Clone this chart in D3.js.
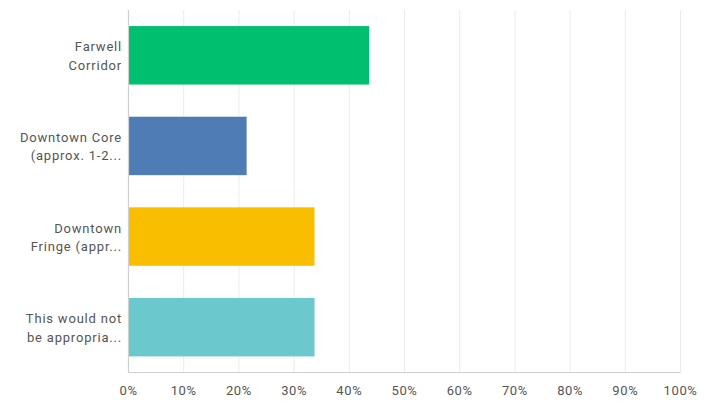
<!DOCTYPE html>
<html><head><meta charset="utf-8">
<script src="https://cdn.jsdelivr.net/npm/d3@7"></script>
<style>body{margin:0;background:#fff}svg{display:block}</style>
</head><body>
<svg id="chart" width="708" height="413"></svg>
<script>
const categories = [
  ["Farwell", "Corridor"],
  ["Downtown Core", "(approx. 1-2..."],
  ["Downtown", "Fringe (appr..."],
  ["This would not", "be appropria..."]
];
const values = [43.6, 21.4, 33.7, 33.7];
const colors = ["#00bf6f", "#507cb6", "#f9be00", "#6bc8cd"];
const tickValues = [0,10,20,30,40,50,60,70,80,90,100];

(function(){
const svg = d3.select("#chart");
const pL = 128.5, pR = 680.5, pT = 10, pB = 372.5;
const x = d3.scaleLinear().domain([0,100]).range([pL, pR]);
const y = d3.scaleBand().domain(d3.range(categories.length)).range([pT, pB]).paddingInner(0.355).paddingOuter(0.1775);

svg.append("g").selectAll("line").data(tickValues.slice(1)).join("line")
  .attr("x1", d => x(d)).attr("x2", d => x(d))
  .attr("y1", pT).attr("y2", pB)
  .attr("stroke", "#ebebeb").attr("stroke-width", 1);

svg.append("g").selectAll("rect").data(values).join("rect")
  .attr("x", x(0)).attr("y", (d,i) => y(i))
  .attr("width", d => x(d) - x(0)).attr("height", y.bandwidth())
  .attr("fill", (d,i) => colors[i]);

svg.append("line").attr("x1", pL).attr("x2", pL).attr("y1", pT).attr("y2", pB)
  .attr("stroke", "#cfcfcf").attr("stroke-width", 1.2);
svg.append("line").attr("x1", pL).attr("x2", pR).attr("y1", pB).attr("y2", pB)
  .attr("stroke", "#cfcfcf").attr("stroke-width", 1.2);

svg.append("g").selectAll("text").data(tickValues).join("text")
  .attr("x", d => x(d)).attr("y", 395)
  .attr("text-anchor", "middle")
  .attr("font-family", "Roboto, sans-serif").attr("font-size", 13)
  .attr("letter-spacing", 0.6)
  .attr("fill", "#555")
  .text(d => d + "%");

const lab = svg.append("g").selectAll("text").data(categories).join("text")
  .attr("text-anchor", "end")
  .attr("font-family", "Roboto, sans-serif").attr("font-size", 13)
  .attr("letter-spacing", 0.8)
  .attr("fill", "#555");
lab.each(function(d,i){
  const cy = y(i) + y.bandwidth()/2;
  const t = d3.select(this);
  d.forEach((line, j) => {
    t.append("tspan").attr("x", 122).attr("y", cy - 4 + j*18.5).text(line);
  });
});
})();
</script>
</body></html>
